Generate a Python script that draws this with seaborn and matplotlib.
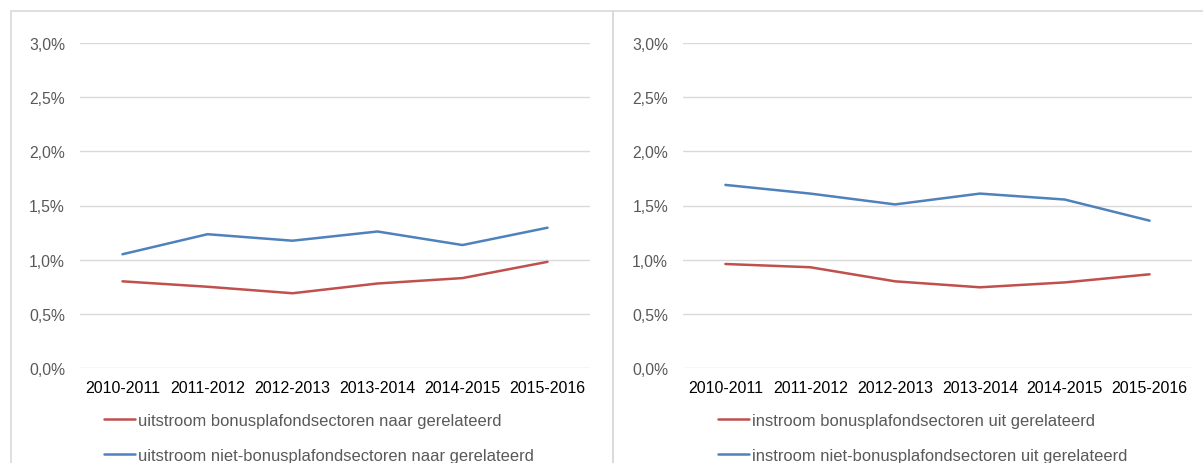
import pandas as pd
import matplotlib.pyplot as plt
import seaborn as sns
from matplotlib.patches import Rectangle
from matplotlib.ticker import FuncFormatter

# data (percentages)
periods = ['2010-2011', '2011-2012', '2012-2013', '2013-2014', '2014-2015', '2015-2016']

uit_bonus = [0.80, 0.75, 0.69, 0.78, 0.83, 0.98]
uit_niet_bonus = [1.05, 1.235, 1.175, 1.26, 1.135, 1.295]
in_bonus = [0.96, 0.93, 0.80, 0.745, 0.79, 0.865]
in_niet_bonus = [1.69, 1.61, 1.51, 1.61, 1.555, 1.36]

lab_uit_bonus = 'uitstroom bonusplafondsectoren naar gerelateerd'
lab_uit_niet = 'uitstroom niet-bonusplafondsectoren naar gerelateerd'
lab_in_bonus = 'instroom bonusplafondsectoren uit gerelateerd'
lab_in_niet = 'instroom niet-bonusplafondsectoren uit gerelateerd'

red = '#C0504D'
blue = '#4F81BD'

sns.set_theme(style='white')
plt.rcParams['font.family'] = ['Liberation Sans', 'DejaVu Sans']

W, H = 1203, 464
fig = plt.figure(figsize=(W / 100, H / 100), dpi=100)


def px_axes(x0, x1, y0, y1):
    return fig.add_axes([x0 / W, 1 - y1 / H, (x1 - x0) / W, (y1 - y0) / H])


# chart frames (light grey borders like the original Excel charts)
fig.patches.append(Rectangle((10.5 / W, -0.1), (613 - 10.5) / W, 1.1 - 12.5 / H,
                             transform=fig.transFigure, fill=False,
                             edgecolor='#D9D9D9', lw=1.2))
fig.patches.append(Rectangle((613 / W, -0.1), 0.2 + (W - 613) / W, 1.1 - 12.5 / H,
                             transform=fig.transFigure, fill=False,
                             edgecolor='#D9D9D9', lw=1.2))

panels = [
    (px_axes(80, 590, 44, 369), uit_bonus, uit_niet_bonus, lab_uit_bonus, lab_uit_niet, 105),
    (px_axes(683, 1192, 44, 369), in_bonus, in_niet_bonus, lab_in_bonus, lab_in_niet, 719),
]

for ax, s1, s2, l1, l2, leg_x in panels:
    df = pd.DataFrame({
        'periode': periods * 2,
        'waarde': s1 + s2,
        'reeks': [l1] * len(periods) + [l2] * len(periods),
    })
    sns.lineplot(data=df, x='periode', y='waarde', hue='reeks',
                 palette={l1: red, l2: blue}, lw=1.8, ax=ax, sort=False)
    ax.set_xlim(-0.5, len(periods) - 0.5)
    ax.set_ylim(0, 3.0)
    ax.set_yticks([0, 0.5, 1.0, 1.5, 2.0, 2.5, 3.0])
    ax.yaxis.set_major_formatter(FuncFormatter(lambda v, p: f'{v:.1f}%'.replace('.', ',')))
    ax.grid(axis='y', color='#D9D9D9', lw=1)
    ax.set_axisbelow(True)
    for sp in ax.spines.values():
        sp.set_visible(False)
    ax.tick_params(axis='y', length=0, pad=10.8, labelsize=11.3, labelcolor='#595959')
    ax.tick_params(axis='x', length=0, pad=9, labelsize=11.5, labelcolor='#000000')
    ax.set_xlabel('')
    ax.set_ylabel('')
    handles, labels = ax.get_legend_handles_labels()
    ax.legend(handles, labels, loc='upper left',
              bbox_to_anchor=(leg_x / W - 0.008, 1 - 406 / H), bbox_transform=fig.transFigure,
              frameon=False, fontsize=11.9, labelcolor='#595959',
              handlelength=1.9, handletextpad=0.15, labelspacing=1.2, borderpad=0)

fig.savefig('out.png', dpi=100, facecolor='white')
